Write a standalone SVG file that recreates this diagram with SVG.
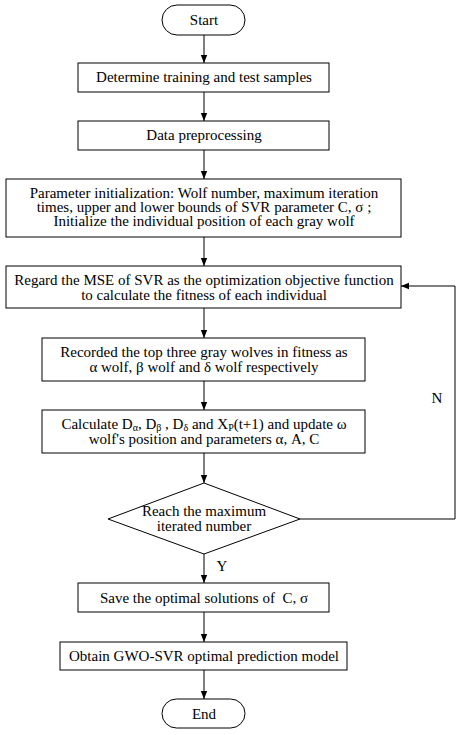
<svg xmlns="http://www.w3.org/2000/svg" width="460" height="735" viewBox="0 0 460 735">
<defs>
<marker id="ah" viewBox="0 0 8 8" refX="8" refY="4" markerWidth="8" markerHeight="8" markerUnits="userSpaceOnUse" orient="auto">
<path d="M0,0.8 L8,4 L0,7.2 Z" fill="#000"/>
</marker>
<style>
.b{fill:#fff;stroke:#000;stroke-width:1}
.t{font-family:"Liberation Serif","Times New Roman",serif;font-size:15px;fill:#000;text-anchor:middle}
.c{fill:none;stroke:#000;stroke-width:1}
.sub{font-size:10px;baseline-shift:-2px}
</style>
</defs>
<rect width="460" height="735" fill="#fff"/>
<g id="connectors">
<line class="c" x1="204" y1="35" x2="204" y2="63" marker-end="url(#ah)"/>
<line class="c" x1="204" y1="92" x2="204" y2="121" marker-end="url(#ah)"/>
<line class="c" x1="204" y1="150" x2="204" y2="179" marker-end="url(#ah)"/>
<line class="c" x1="204" y1="237" x2="204" y2="266" marker-end="url(#ah)"/>
<line class="c" x1="204" y1="308" x2="204" y2="338" marker-end="url(#ah)"/>
<line class="c" x1="204" y1="381" x2="204" y2="410" marker-end="url(#ah)"/>
<line class="c" x1="204" y1="453" x2="204" y2="483" marker-end="url(#ah)"/>
<line class="c" x1="204" y1="554" x2="204" y2="583" marker-end="url(#ah)"/>
<line class="c" x1="204" y1="612" x2="204" y2="642" marker-end="url(#ah)"/>
<line class="c" x1="204" y1="670" x2="204" y2="699" marker-end="url(#ah)"/>
<polyline class="c" points="300,519 455,519 455,286 401,286" marker-end="url(#ah)"/>
<text class="t" x="437" y="403">N</text>
<text class="t" x="222" y="571">Y</text>
</g>
<g id="start">
<rect class="b" x="162" y="5" width="83" height="30" rx="15" ry="15"/>
<text class="t" x="204" y="25">Start</text>
</g>
<g id="samples">
<rect class="b" x="78" y="63" width="251" height="29"/>
<text class="t" x="204" y="82">Determine training and test samples</text>
</g>
<g id="preprocess">
<rect class="b" x="78" y="121" width="251" height="29"/>
<text class="t" x="204" y="140">Data preprocessing</text>
</g>
<g id="init">
<rect class="b" x="6" y="179" width="395" height="58"/>
<text class="t" x="204" y="198">Parameter initialization: Wolf number, maximum iteration</text>
<text class="t" x="204" y="212">times, upper and lower bounds of SVR parameter C, σ ;</text>
<text class="t" x="204" y="226">Initialize the individual position of each gray wolf</text>
</g>
<g id="fitness">
<rect class="b" x="6" y="266" width="395" height="42"/>
<text class="t" x="204" y="285">Regard the MSE of SVR as the optimization objective function</text>
<text class="t" x="204" y="300">to calculate the fitness of each individual</text>
</g>
<g id="record">
<rect class="b" x="42" y="338" width="323" height="43"/>
<text class="t" x="204" y="357">Recorded the top three gray wolves in fitness as</text>
<text class="t" x="204" y="372">α wolf, β wolf and δ wolf respectively</text>
</g>
<g id="update">
<rect class="b" x="42" y="410" width="323" height="43"/>
<text class="t" x="204" y="429">Calculate D<tspan class="sub">α</tspan>, D<tspan class="sub">β</tspan> , D<tspan class="sub">δ</tspan> and X<tspan class="sub">P</tspan>(t+1) and update ω</text>
<text class="t" x="204" y="444">wolf's position and parameters α, A, C</text>
</g>
<g id="decision">
<polygon class="b" points="204,483 300,519 204,554 108,519"/>
<text class="t" x="204" y="516">Reach the maximum</text>
<text class="t" x="204" y="531">iterated number</text>
</g>
<g id="save">
<rect class="b" x="78" y="583" width="251" height="29"/>
<text class="t" x="204" y="603" xml:space="preserve">Save the optimal solutions of  C, σ</text>
</g>
<g id="model">
<rect class="b" x="60" y="642" width="287" height="28"/>
<text class="t" x="204" y="661">Obtain GWO-SVR optimal prediction model</text>
</g>
<g id="end">
<rect class="b" x="162" y="699" width="83" height="29" rx="14.5" ry="14.5"/>
<text class="t" x="204" y="719">End</text>
</g>
</svg>
